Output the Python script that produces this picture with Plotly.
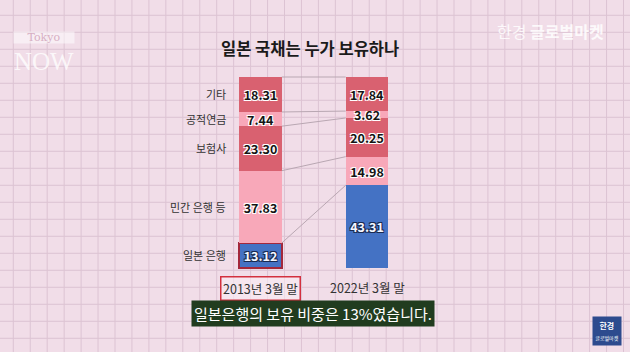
import plotly.graph_objects as go

# ---------------- data ----------------
periods = ['2013년 3월 말', '2022년 3월 말']
holders = ['일본 은행', '민간 은행 등', '보험사', '공적연금', '기타']
boj = [13.12, 43.31]
private_banks = [37.83, 14.98]
insurers = [23.30, 20.25]
public_pension = [7.44, 3.62]
others = [18.31, 17.84]

title_text = '일본 국채는 누가 보유하나'
caption_text = '일본은행의 보유 비중은 13%였습니다.'

# ---------------- styles ----------------
W, H = 630, 352
BG = '#f1dde8'
GRID = '#dcc3d3'
DARK = '#d96170'
LIGHT = '#f8a8b9'
BLUE = '#4472c4'
FONT = 'Noto Sans CJK KR'
BAR_W = 0.40

series = [boj, private_banks, insurers, public_pension, others]
colors = [BLUE, LIGHT, DARK, LIGHT, DARK]
xpos = list(range(len(periods)))

fig = go.Figure()

white_halo = '1px 1px 0 #fff, -1px -1px 0 #fff, 1px -1px 0 #fff, -1px 1px 0 #fff'
dark_halo = '1px 1px 0 #1a2a50, -1px -1px 0 #1a2a50, 1px -1px 0 #1a2a50, -1px 1px 0 #1a2a50'

for i, (name, vals, col) in enumerate(zip(holders, series, colors)):
    is_boj = i == 0
    fig.add_trace(go.Bar(
        x=xpos, y=vals, name=name, width=BAR_W,
        marker=dict(color=col,
                    line=dict(color=['#a3283c', 'rgba(0,0,0,0)'] if is_boj else col,
                              width=[2, 0] if is_boj else 0)),
        text=[f'{v:.2f}' for v in vals],
        textposition='inside', insidetextanchor='middle',
        textfont=dict(family=FONT, size=12.5, weight='bold',
                      color='#f4f6ff' if is_boj else '#141414',
                      shadow=dark_halo if is_boj else white_halo),
        showlegend=False, hoverinfo='skip',
    ))

# connector lines between cumulative boundaries
cum = []
run = [0.0, 0.0]
for vals in series:
    run = [run[j] + vals[j] for j in range(2)]
    cum.append(list(run))
lx, ly = [], []
for c in cum:
    lx += [xpos[0] + BAR_W / 2, xpos[1] - BAR_W / 2, None]
    ly += [c[0], c[1], None]
fig.add_trace(go.Scatter(x=lx, y=ly, mode='lines',
                         line=dict(color='#b9a7b2', width=1),
                         showlegend=False, hoverinfo='skip'))

# ---------------- background grid (decorative) ----------------
shapes = []
gx = 13.3
while gx < W:
    shapes.append(dict(type='line', xref='paper', yref='paper',
                       x0=gx / W, x1=gx / W, y0=0, y1=1,
                       line=dict(color=GRID, width=1), layer='below'))
    gx += 16.95
gy = 15.3
while gy < H:
    shapes.append(dict(type='line', xref='paper', yref='paper',
                       x0=0, x1=1, y0=1 - gy / H, y1=1 - gy / H,
                       line=dict(color=GRID, width=1), layer='below'))
    gy += 17.0

annotations = []
# holder labels on the left of the first bar
prev = 0.0
for name, vals in zip(holders, series):
    mid = prev + vals[0] / 2
    prev += vals[0]
    annotations.append(dict(x=xpos[0] - BAR_W / 2, y=mid, xref='x', yref='y',
                            text=name, showarrow=False, xanchor='right',
                            xshift=-11, yanchor='middle',
                            font=dict(family=FONT, size=11, color='#333333')))
# period labels
for i, p in enumerate(periods):
    a = dict(x=xpos[i], y=0, xref='x', yref='y', text=p, showarrow=False,
             xanchor='center', yanchor='top', yshift=-8,
             font=dict(family=FONT, size=12.5, color='#333333'))
    if i == 0:
        a.update(bordercolor='#d3303e', borderwidth=1.5, borderpad=1.5,
                 bgcolor='rgba(250,236,244,0.6)')
    annotations.append(a)

# title
annotations.append(dict(x=310 / W, y=1 - 48 / H, xref='paper', yref='paper',
                        text='<b>' + title_text + '</b>', showarrow=False,
                        xanchor='center', yanchor='middle',
                        font=dict(family=FONT, size=16.5, color='#1a1a1a')))
# caption
annotations.append(dict(x=313 / W, y=1 - 313.5 / H, xref='paper', yref='paper',
                        text=caption_text, showarrow=False,
                        xanchor='center', yanchor='middle',
                        bgcolor='#213c1f', borderpad=2,
                        font=dict(family=FONT, size=15, color='#ffffff')))
# watermarks
annotations.append(dict(x=44 / W, y=1 - 38 / H, xref='paper', yref='paper',
                        text='Tokyo', showarrow=False, xanchor='center', yanchor='middle',
                        bgcolor='rgba(255,255,255,0.5)', width=60, height=11,
                        borderpad=0, font=dict(family='DejaVu Serif', size=11,
                                               color='rgba(215,175,195,1)')))
annotations.append(dict(x=44 / W, y=1 - 61 / H, xref='paper', yref='paper',
                        text='NOW', showarrow=False, xanchor='center', yanchor='middle',
                        height=22,
                        font=dict(family='Liberation Serif', size=25,
                                  color='rgba(255,255,255,0.8)')))
annotations.append(dict(x=550 / W, y=1 - 31 / H, xref='paper', yref='paper',
                        text='한경 <b>글로벌마켓</b>', showarrow=False,
                        xanchor='center', yanchor='middle',
                        font=dict(family=FONT, size=16,
                                  color='rgba(255,255,255,0.85)')))
annotations.append(dict(x=607 / W, y=1 - 331 / H, xref='paper', yref='paper',
                        text='<b>한경</b><br><span style="font-size:5px">글로벌마켓</span>',
                        showarrow=False, xanchor='center', yanchor='middle',
                        bgcolor='#2d4b8e', width=26, height=26,
                        font=dict(family=FONT, size=8, color='#ffffff')))

# axis ranges chosen so that the bars land where they do in the picture
px_per_cat = 106.5
c0 = 260.5
px_per_unit = 1.91
y0px = 268

fig.update_layout(
    width=W, height=H, margin=dict(l=0, r=0, t=0, b=0),
    paper_bgcolor=BG, plot_bgcolor='rgba(0,0,0,0)',
    barmode='stack', bargap=0,
    uniformtext=dict(mode='show', minsize=12.5),
    xaxis=dict(range=[-c0 / px_per_cat, (W - c0) / px_per_cat], visible=False,
               fixedrange=True),
    yaxis=dict(range=[-(H - y0px) / px_per_unit, y0px / px_per_unit],
               visible=False, fixedrange=True),
    shapes=shapes, annotations=annotations,
)

fig.write_html('out.html')
